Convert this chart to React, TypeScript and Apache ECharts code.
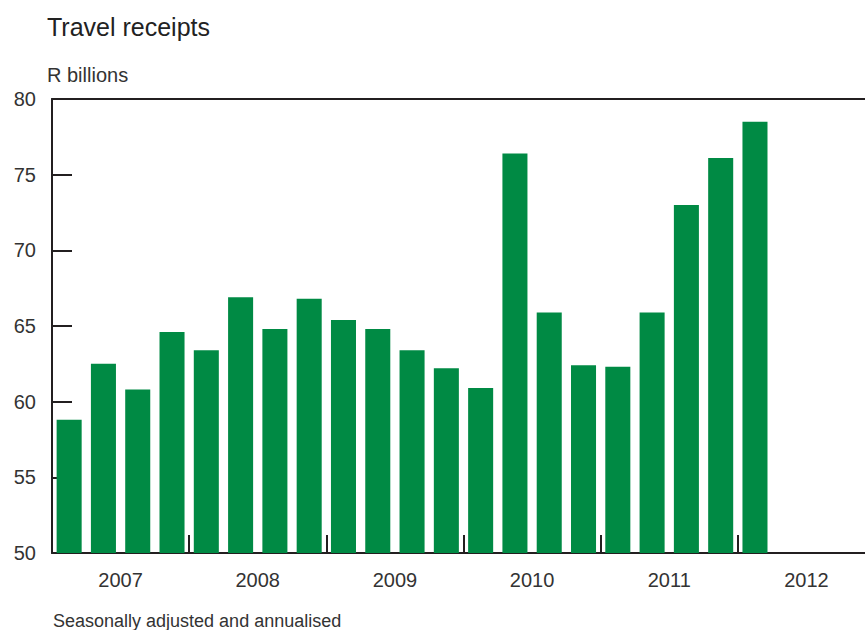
import React, { useEffect, useRef } from "react";
import * as echarts from "echarts";

const years = ["2007", "2008", "2009", "2010", "2011", "2012"];
const quarters = years.flatMap((y) => ["Q1", "Q2", "Q3", "Q4"].map((q) => `${y} ${q}`));
const receipts: (number | null)[] = [
  58.8, 62.5, 60.8, 64.6,
  63.4, 66.9, 64.8, 66.8,
  65.4, 64.8, 63.4, 62.2,
  60.9, 76.4, 65.9, 62.4,
  62.3, 65.9, 73.0, 76.1,
  78.5, null, null, null,
];
const yTicks = { min: 50, max: 80, interval: 5 };

const FONT = "Liberation Sans, Arial, sans-serif";
const TEXT = "#333333";
const AXIS = "#231f20";

export default function App() {
  const ref = useRef<HTMLDivElement>(null);
  useEffect(() => {
    if (!ref.current) return;
    const chart = echarts.init(ref.current, null, { renderer: "svg" });
    chart.setOption({
      animation: false,
      title: {
        text: "Travel receipts",
        left: 42,
        top: 9,
        textStyle: { fontFamily: FONT, fontSize: 25, fontWeight: "normal", color: "#222" },
      },
      graphic: [
        {
          type: "text",
          left: 47,
          top: 65,
          style: { text: "R billions", fontFamily: FONT, fontSize: 20, fill: TEXT },
        },
        {
          type: "text",
          left: 53,
          top: 612,
          style: { text: "Seasonally adjusted and annualised", fontFamily: FONT, fontSize: 18, fill: TEXT },
        },
      ],
      grid: {
        left: 52,
        top: 99,
        width: 823,
        height: 454,
        show: false,
      },
      xAxis: [
        {
          type: "category",
          data: quarters,
          axisLine: { show: true, lineStyle: { color: AXIS, width: 2 } },
          axisTick: { show: false },
          axisLabel: { show: false },
        },
        {
          type: "category",
          data: years,
          position: "bottom",
          boundaryGap: true,
          axisLine: { show: false },
          axisTick: { show: true, inside: true, length: 18, interval: 0, lineStyle: { color: AXIS, width: 2 } },
          axisLabel: { show: true, interval: 0, fontFamily: FONT, fontSize: 20, color: TEXT, margin: 17 },
        },
        {
          type: "category",
          data: years,
          position: "top",
          axisLine: { show: true, lineStyle: { color: AXIS, width: 2 } },
          axisTick: { show: false },
          axisLabel: { show: false },
        },
      ],
      yAxis: {
        type: "value",
        min: yTicks.min,
        max: yTicks.max,
        interval: yTicks.interval,
        axisLine: { show: true, lineStyle: { color: AXIS, width: 2 } },
        axisTick: { show: true, inside: true, length: 20, lineStyle: { color: AXIS, width: 2 } },
        axisLabel: { fontFamily: FONT, fontSize: 20, color: TEXT, margin: 16 },
        splitLine: { show: false },
      },
      series: [
        {
          type: "bar",
          data: receipts,
          xAxisIndex: 0,
          barCategoryGap: "27%",
          itemStyle: { color: "#008a44" },
        },
      ],
    });
    return () => chart.dispose();
  }, []);
  return (
    <div style={{ position: "absolute", left: 0, top: 0, width: 865, height: 630, overflow: "hidden", background: "#fff" }}>
      <div ref={ref} style={{ width: 1000, height: 630 }} />
    </div>
  );
}
